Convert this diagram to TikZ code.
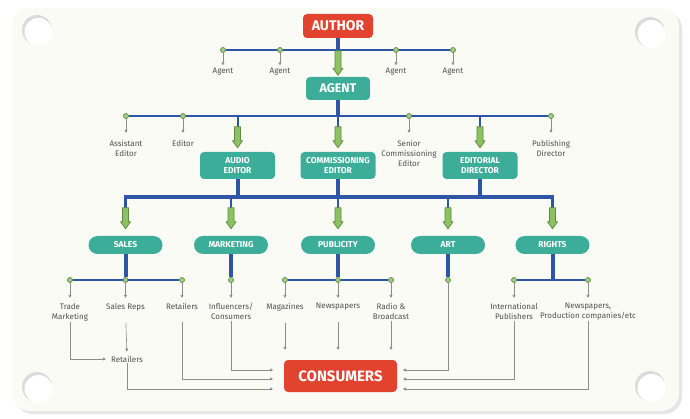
\documentclass[tikz,border=0pt]{standalone}
\usepackage{fontspec}
\setmainfont{Fira Sans}
\usetikzlibrary{positioning,arrows.meta,calc}

\definecolor{authred}{HTML}{E2432F}
\definecolor{tealbox}{HTML}{3CAD98}
\definecolor{barblue}{HTML}{2F56A6}
\definecolor{arrgreen}{HTML}{8DC164}
\definecolor{arrdark}{HTML}{5A8C3C}
\definecolor{dotgreen}{HTML}{A5CB8B}
\definecolor{linegray}{HTML}{8C8C8C}
\definecolor{labgray}{HTML}{4F4F4F}
\definecolor{cardbg}{HTML}{FBFBF6}

\pgfdeclarelayer{back}
\pgfdeclarelayer{bg}
\pgfsetlayers{back,bg,main}

\tikzset{
  redbox/.style={fill=authred, text=white, rounded corners=4pt, inner sep=0pt, font=\bfseries\fontsize{14}{14}\selectfont},
  tbox/.style={fill=tealbox, text=white, rounded corners=4pt, inner sep=0pt, minimum width=75pt, minimum height=27pt, align=center, font=\bfseries\fontsize{8.5}{10.5}\selectfont},
  pill/.style={fill=tealbox, text=white, rounded corners=9pt, inner sep=0pt, minimum width=74pt, minimum height=18pt, font=\bfseries\fontsize{8.5}{10}\selectfont},
  gdot/.style={circle, fill=dotgreen, draw=arrdark, line width=0.7pt, inner sep=0pt, minimum size=5pt},
  lab/.style={text=labgray, align=center, inner sep=1pt, font=\fontsize{8}{10}\selectfont},
  trunk/.style={draw=barblue, line width=4pt},
  bar/.style={draw=barblue, line width=2pt},
  garr/.style={draw=linegray, line width=0.6pt, -{Triangle[length=3pt,width=3pt]}},
  gshape/.style={fill=arrgreen, draw=arrdark, line width=0.7pt, line join=round},
}

% green block arrow: target node, length, gap above node
\newcommand{\garrow}[3]{%
  \draw[gshape] ($(#1.north)+(-3,-#2-#3)$) -- ($(#1.north)+(-3,-#3-7)$)
    -- ($(#1.north)+(-5,-#3-7)$) -- ($(#1.north)+(0,-#3)$)
    -- ($(#1.north)+(5,-#3-7)$) -- ($(#1.north)+(3,-#3-7)$)
    -- ($(#1.north)+(3,-#2-#3)$) -- cycle;}

\begin{document}
\begin{tikzpicture}[x=1pt, y=-1pt]
\useasboundingbox (0,0) rectangle (690,419);
% card and holes
\begin{pgfonlayer}{back}
\fill[white] (0,0) rectangle (690,419);
\fill[black!10, rounded corners=18pt] (15,11) rectangle (682,414);
\fill[cardbg, rounded corners=18pt] (12,8) rectangle (679,411);
\foreach \hx/\hy in {37/30, 650/32, 37/387, 650/386} {
  \fill[black!14] (\hx,\hy) circle (15pt);
  \fill[white] (\hx+1.5,\hy+2) circle (14pt);
}
\end{pgfonlayer}

% boxes
\node[redbox, minimum width=70pt, minimum height=24pt] (author) at (338,26) {AUTHOR};
\node[tbox, minimum width=64pt, minimum height=23pt, font=\bfseries\fontsize{12.5}{12.5}\selectfont] (agent) at (338,88.5) {AGENT};
\node[tbox] (audio) at (237.5,165.5) {AUDIO\\EDITOR};
\node[tbox] (commis) at (338,165.5) {COMMISSIONING\\EDITOR};
\node[tbox] (edir) at (480,165.5) {EDITORIAL\\DIRECTOR};
\node[pill] (sales) at (125.5,245) {SALES};
\node[pill] (market) at (231,245) {MARKETING};
\node[pill] (public) at (338,245) {PUBLICITY};
\node[pill] (art) at (448,245) {ART};
\node[pill] (rights) at (552.5,245) {RIGHTS};
\node[redbox, minimum width=113pt, minimum height=32pt, font=\bfseries\fontsize{15}{15}\selectfont] (cons) at (340.5,376) {CONSUMERS};

% agents
\coordinate (b1) at (338,50);
\node[gdot] (a1) at (223,50) {};
\node[gdot] (a2) at (280,50) {};
\node[gdot] (a3) at (396,50) {};
\node[gdot] (a4) at (453,50) {};
\node[lab, below=14pt of a1] (ag1) {Agent};
\node[lab, below=14pt of a2] (ag2) {Agent};
\node[lab, below=14pt of a3] (ag3) {Agent};
\node[lab, below=14pt of a4] (ag4) {Agent};

% editors
\coordinate (b2) at (338,116);
\node[gdot] (e1) at (126,116) {};
\node[gdot] (e2) at (183,116) {};
\node[gdot] (e3) at (409,116) {};
\node[gdot] (e4) at (551,116) {};
\node[lab, below=20pt of e1] (ed1) {Assistant\\Editor};
\node[lab, below=20pt of e2] (ed2) {Editor};
\node[lab, below=20pt of e3] (ed3) {Senior\\Commissioning\\Editor};
\node[lab, below=20pt of e4] (ed4) {Publishing\\Director};

% departments
\coordinate (b3) at (338,197);
\node[gdot] (s1) at (70,280) {};
\node[gdot] (s2) at (125.5,280) {};
\node[gdot] (s3) at (182,280) {};
\node[gdot] (m1) at (231,280) {};
\node[gdot] (p1) at (285,280) {};
\node[gdot] (p2) at (338,280) {};
\node[gdot] (p3) at (391,280) {};
\node[gdot] (t1) at (448,280) {};
\node[gdot] (r1) at (514,280) {};
\node[gdot] (r2) at (588,280) {};
\node[lab, below=19pt of s1] (l1) {Trade\\Marketing};
\node[lab, below=19pt of s2] (l2) {Sales Reps};
\node[lab, below=19pt of s3] (l3) {Retailers};
\node[lab, below=19pt of m1] (l4) {Influencers/\\Consumers};
\node[lab, below=19pt of p1] (l5) {Magazines};
\node[lab, below=19pt of p2] (l6) {Newspapers};
\node[lab, below=19pt of p3] (l7) {Radio \&\\Broadcast};
\node[lab, below=19pt of r1] (l8) {International\\Publishers};
\node[lab, below=19pt of r2] (l9) {Newspapers,\\Production companies/etc};
\node[lab] (ret2) at (127,359) {Retailers};

\coordinate (c1) at (273,370); \coordinate (c2) at (273,379); \coordinate (c3) at (273,389);
\coordinate (c4) at (403,370); \coordinate (c5) at (403,379); \coordinate (c6) at (403,389);

% blue lines
\begin{pgfonlayer}{bg}
  \draw[trunk] (author.south) -- (b1);
  \draw[bar] (a1) -- (a4);
  \draw[trunk] (agent.south) -- (b2);
  \draw[bar] (e1) -- (e4);
  \draw[bar, shorten >=8pt] (audio.north |- b2) -- (audio.north);
  \draw[bar, shorten >=8pt] (b2) -- (commis.north);
  \draw[bar, shorten >=8pt] (edir.north |- b2) -- (edir.north);
  \draw[trunk] (audio.south) -- (audio.south |- b3);
  \draw[trunk] (commis.south) -- (b3);
  \draw[trunk] (edir.south) -- (edir.south |- b3);
  \draw[draw=barblue, line width=3.5pt, shorten <=10pt, shorten >=10pt] (sales.north) |- (b3) -| (rights.north);
  \draw[bar, shorten >=10pt] (market.north |- b3) -- (market.north);
  \draw[bar, shorten >=10pt] (b3) -- (public.north);
  \draw[bar, shorten >=10pt] (art.north |- b3) -- (art.north);
  \draw[trunk] (sales.south) -- (s2);
  \draw[bar] (s1) -- (s3);
  \draw[trunk] (market.south) -- (m1);
  \draw[trunk] (public.south) -- (p2);
  \draw[bar] (p1) -- (p3);
  \draw[trunk] (art.south) -- (t1);
  \draw[trunk] (rights.south) -- (rights.south |- r1);
  \draw[bar] (r1) -- (r2);
\end{pgfonlayer}

% green arrows
\garrow{agent}{24.5}{1.5}
\garrow{audio}{21}{4}
\garrow{commis}{21}{4}
\garrow{edir}{21}{4}
\garrow{sales}{21}{7}
\garrow{market}{21}{7}
\garrow{public}{21}{7}
\garrow{art}{21}{7}
\garrow{rights}{21}{7}

% gray arrows
\foreach \d/\l in {a1/ag1, a2/ag2, a3/ag3, a4/ag4}
  \draw[garr, shorten >=1.5pt] (\d.south) -- (\l.north);
\foreach \d/\l in {e1/ed1, e2/ed2, e3/ed3, e4/ed4}
  \draw[garr, shorten >=6pt] (\d.south) -- (\l.north);
\foreach \d/\l in {s1/l1, s2/l2, s3/l3, m1/l4, p1/l5, p2/l6, p3/l7, r1/l8, r2/l9}
  \draw[garr, shorten >=4pt] (\d.south) -- (\l.north);
\draw[garr, shorten >=4pt] (l1.south) |- (ret2.west);
\draw[garr, shorten <=11pt, shorten >=3pt] (l2.south) -- (ret2.north);
\draw[garr, shorten <=11pt] (l3.south) |- (c2);
\draw[garr] (l4.south) |- (c1);
\draw[garr] (ret2.south) |- (c3);
\draw[garr, shorten <=11pt, shorten >=10pt] (l5.south) -- (l5.south |- cons.north);
\draw[garr, shorten <=11pt, shorten >=10pt] (l6.south) -- (l6.south |- cons.north);
\draw[garr, shorten >=10pt] (l7.south) -- (l7.south |- cons.north);
\draw[garr] (t1.south) |- (c4);
\draw[garr] (l8.south) |- (c5);
\draw[garr] (l9.south) |- (c6);
\end{tikzpicture}
\end{document}
